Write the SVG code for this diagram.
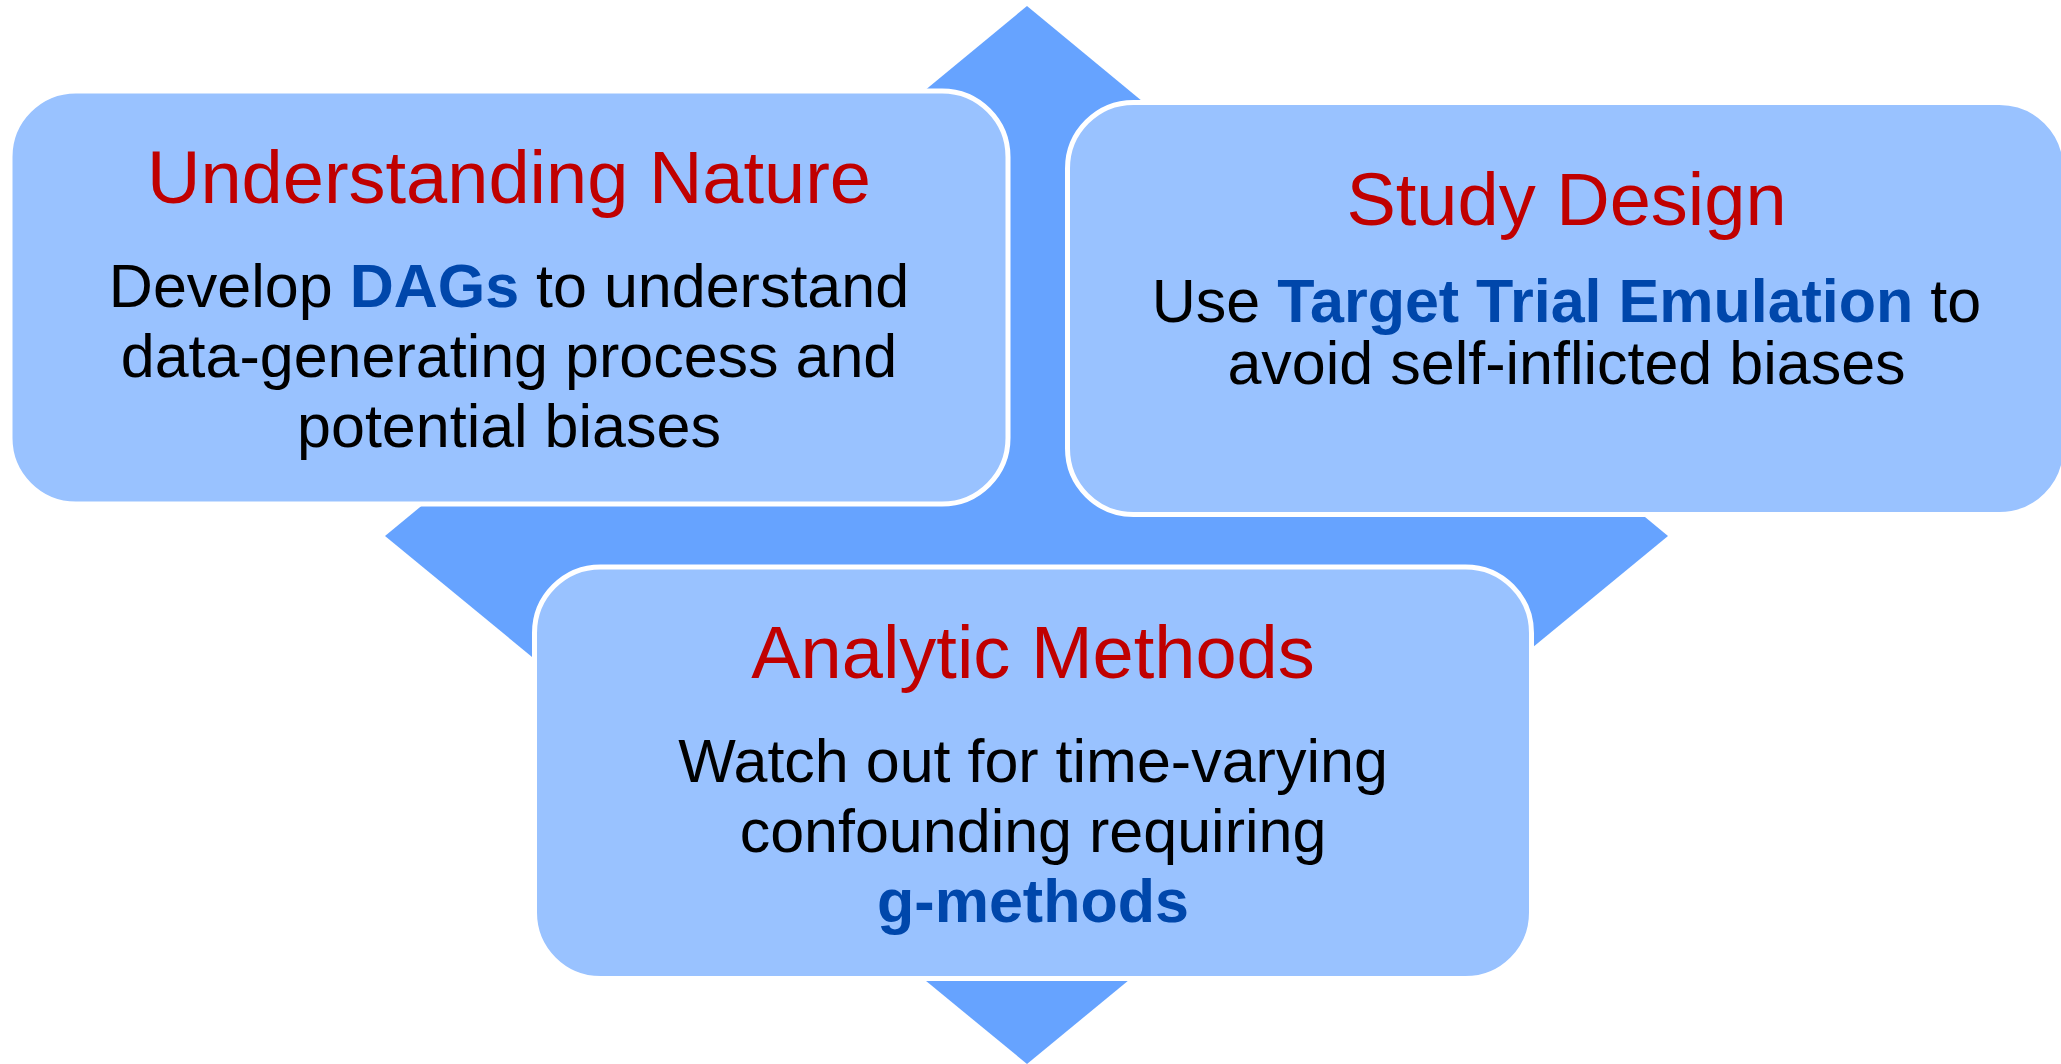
<svg xmlns="http://www.w3.org/2000/svg" width="2061" height="1064" viewBox="0 0 2061 1064">
<style>
.box{fill:#99C2FF;stroke:#FFFFFF;stroke-width:5}
.title{font-family:"Liberation Sans",Arial,sans-serif;font-size:74px;fill:#C00000;text-anchor:middle}
.body{font-family:"Liberation Sans",Arial,sans-serif;font-size:61px;fill:#000000;text-anchor:middle}
.hl{font-weight:bold;fill:#0047AB}
</style>
<rect x="0" y="0" width="2061" height="1064" fill="#FFFFFF"/>
<g id="backdrop">
<polygon points="1027,6 1668,536 1027,1064 385,536" fill="#66A3FF"/>
</g>
<g id="connectors"></g>
<g id="node-understanding-nature">
<rect class="box" x="10" y="91" width="998" height="413" rx="66" ry="66"/>
<text class="title" x="509" y="203">Understanding Nature</text>
<text class="body" x="509" y="307">Develop <tspan class="hl">DAGs</tspan> to understand</text>
<text class="body" x="509" y="377">data-generating process and</text>
<text class="body" x="509" y="447">potential biases</text>
</g>
<g id="node-study-design">
<rect class="box" x="1067.5" y="102.5" width="998" height="412" rx="66" ry="66"/>
<text class="title" x="1566.5" y="225">Study Design</text>
<text class="body" x="1566.5" y="322">Use <tspan class="hl">Target Trial Emulation</tspan> to</text>
<text class="body" x="1566.5" y="384">avoid self-inflicted biases</text>
</g>
<g id="node-analytic-methods">
<rect class="box" x="534.5" y="567" width="997" height="411.5" rx="66" ry="66"/>
<text class="title" x="1033" y="678">Analytic Methods</text>
<text class="body" x="1033" y="782">Watch out for time-varying</text>
<text class="body" x="1033" y="852">confounding requiring</text>
<text class="body" x="1033" y="922"><tspan class="hl">g-methods</tspan></text>
</g>
</svg>
